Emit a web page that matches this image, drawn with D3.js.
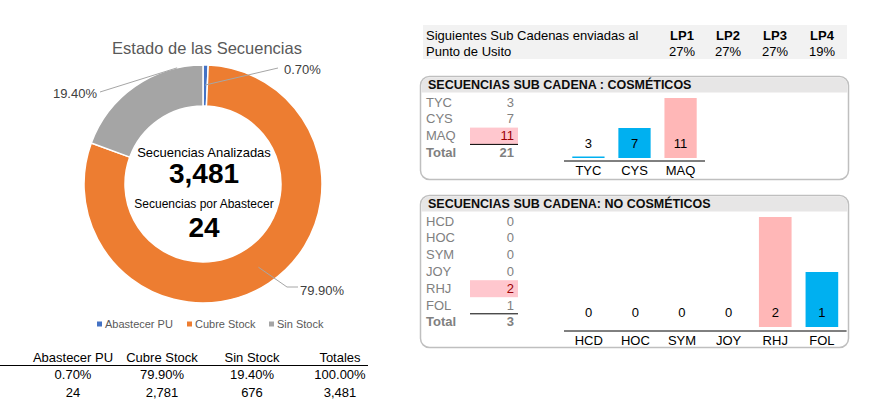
<!DOCTYPE html>
<html><head><meta charset="utf-8">
<script src="https://cdn.jsdelivr.net/npm/d3@7"></script>
<style>body{margin:0;background:#fff}svg{display:block}text{font-family:"Liberation Sans",Arial,sans-serif}</style>
</head><body><svg id="c" width="878" height="410"></svg>
<script>
// ---- data ----
const pieCategories = ["Abastecer PU", "Cubre Stock", "Sin Stock"];
const piePercents = [0.70, 79.90, 19.40];
const pieCounts = [24, 2781, 676];
const totalCount = 3481;
const pendingCount = 24;
const lpLabels = ["LP1", "LP2", "LP3", "LP4"];
const lpValues = ["27%", "27%", "27%", "19%"];
const cosCategories = ["TYC", "CYS", "MAQ"];
const cosValues = [3, 7, 11];
const cosTotal = 21;
const noCosCategories = ["HCD", "HOC", "SYM", "JOY", "RHJ", "FOL"];
const noCosValues = [0, 0, 0, 0, 2, 1];
const noCosTotal = 3;

// ---- styles ----
const pieColors = ["#4472c4", "#ed7d31", "#a5a5a5"];
const BLUE = "#00b0f0", PINK = "#ffb7b7";
const svg = d3.select("#c");

// ---- donut ----
const cx = 203, cy = 184, R = 119, r0 = 78;
svg.append("text").attr("x", 207).attr("y", 48).attr("text-anchor", "middle")
  .attr("dominant-baseline", "central").attr("font-size", 16.5).attr("fill", "#595959")
  .text("Estado de las Secuencias");
const pie = d3.pie().sort(null).value(d => d)(piePercents);
const arc = d3.arc().innerRadius(r0).outerRadius(R);
const g = svg.append("g").attr("transform", `translate(${cx},${cy})`);
g.selectAll("path").data(pie).join("path").attr("d", arc)
  .attr("fill", (d, i) => pieColors[i]).attr("stroke", "#fff").attr("stroke-width", 1.5);

function pt(a, rad) { return [Math.sin(a) * rad, -Math.cos(a) * rad]; }
const labelLayout = [
  { start: d => pt((d.startAngle + d.endAngle) / 2, 99), pts: [[75, -116]], tx: 81, ty: -115, anchor: "start" },
  { start: d => pt((d.startAngle + d.endAngle) / 2, 100), pts: [[84, 103], [95, 103]], tx: 97, ty: 106, anchor: "start" },
  { start: d => pt(d.endAngle - 0.18 * (d.endAngle - d.startAngle), R), pts: [[-103, -92]], tx: -106, ty: -91, anchor: "end" }
];
pie.forEach((d, i) => {
  const L = labelLayout[i];
  const p = [L.start(d)].concat(L.pts);
  g.append("path").attr("d", d3.line()(p)).attr("fill", "none").attr("stroke", "#a6a6a6").attr("stroke-width", 1);
  g.append("text").attr("x", L.tx).attr("y", L.ty).attr("text-anchor", L.anchor)
    .attr("dominant-baseline", "central").attr("font-size", 13).attr("fill", "#404040")
    .text(piePercents[i].toFixed(2) + "%");
});
const fmt = d3.format(",");
[["Secuencias Analizadas", 152, 13, "normal"], [fmt(totalCount), 173, 28, "bold"],
 ["Secuencias por Abastecer", 204, 12, "normal"], [fmt(pendingCount), 227, 28, "bold"]]
  .forEach(([t, y, s, w]) => svg.append("text").attr("x", 204).attr("y", y).attr("text-anchor", "middle")
    .attr("dominant-baseline", "central").attr("font-size", s).attr("font-weight", w).attr("fill", "#000").text(t));

// legend
const legX = [97, 187, 269];
pieCategories.forEach((c, i) => {
  svg.append("rect").attr("x", legX[i]).attr("y", 321.5).attr("width", 5).attr("height", 5).attr("fill", pieColors[i]);
  svg.append("text").attr("x", legX[i] + 8).attr("y", 324).attr("dominant-baseline", "central")
    .attr("font-size", 11).attr("fill", "#595959").text(c);
});

// bottom table
const colX = [73, 162, 252, 340];
const hdr = pieCategories.concat(["Totales"]);
const pctRow = piePercents.map(v => v.toFixed(2) + "%").concat([d3.sum(piePercents).toFixed(2) + "%"]);
const cntRow = pieCounts.map(fmt).concat([fmt(totalCount)]);
[[hdr, 357], [pctRow, 374], [cntRow, 392]].forEach(([row, y]) => row.forEach((t, i) =>
  svg.append("text").attr("x", colX[i]).attr("y", y).attr("text-anchor", "middle")
    .attr("dominant-baseline", "central").attr("font-size", 13).attr("fill", "#000").text(t)));
svg.append("line").attr("x1", 0).attr("x2", 368).attr("y1", 365.5).attr("y2", 365.5).attr("stroke", "#000");

// ---- top right box ----
svg.append("rect").attr("x", 423).attr("y", 25).attr("width", 424).attr("height", 34).attr("fill", "#f2f2f2");
svg.append("text").attr("x", 426).attr("y", 35).attr("dominant-baseline", "central").attr("font-size", 13).text("Siguientes Sub Cadenas enviadas al");
svg.append("text").attr("x", 426).attr("y", 51).attr("dominant-baseline", "central").attr("font-size", 13).text("Punto de Usito");
const lpX = [682, 728, 775, 822];
lpLabels.forEach((l, i) => {
  svg.append("text").attr("x", lpX[i]).attr("y", 35).attr("text-anchor", "middle").attr("dominant-baseline", "central")
    .attr("font-size", 13).attr("font-weight", "bold").text(l);
  svg.append("text").attr("x", lpX[i]).attr("y", 51).attr("text-anchor", "middle").attr("dominant-baseline", "central")
    .attr("font-size", 13).text(lpValues[i]);
});

// ---- panels ----
function panel(y0, y1, title, cats, vals, total, domain, barTop, barBase, axisY) {
  svg.append("rect").attr("x", 420.5).attr("y", y0 + 0.5).attr("width", 428).attr("height", y1 - y0)
    .attr("rx", 9).attr("fill", "#fff").attr("stroke", "#bfbfbf").attr("stroke-width", 1.5);
  svg.append("path").attr("d", `M421.5,${y0 + 16} L421.5,${y0 + 9} Q421.5,${y0 + 1.5} 430,${y0 + 1.5} L839,${y0 + 1.5} Q847.5,${y0 + 1.5} 847.5,${y0 + 9} L847.5,${y0 + 16.5} L421.5,${y0 + 16.5} Z`)
    .attr("fill", "#e7e6e6");
  svg.append("text").attr("x", 428).attr("y", y0 + 9).attr("dominant-baseline", "central")
    .attr("font-size", 12.5).attr("font-weight", "bold").attr("fill", "#0d0d0d").text(title);
  // left table
  const maxV = d3.max(vals);
  const rowY = d3.range(cats.length + 1).map(i => y0 + 26 + i * 16.8);
  cats.forEach((c, i) => {
    if (vals[i] === maxV) {
      svg.append("rect").attr("x", 470).attr("y", rowY[i] - 8).attr("width", 48).attr("height", 17).attr("fill", "#ffc7ce");
    }
    svg.append("text").attr("x", 426).attr("y", rowY[i]).attr("dominant-baseline", "central")
      .attr("font-size", 13).attr("fill", "#808080").text(c);
    svg.append("text").attr("x", 514).attr("y", rowY[i]).attr("text-anchor", "end").attr("dominant-baseline", "central")
      .attr("font-size", 13).attr("fill", vals[i] === maxV ? "#9c0006" : "#808080").text(vals[i]);
  });
  const ty = rowY[cats.length];
  svg.append("line").attr("x1", 470).attr("x2", 518).attr("y1", ty - 8).attr("y2", ty - 8).attr("stroke", "#000");
  svg.append("text").attr("x", 426).attr("y", ty).attr("dominant-baseline", "central")
    .attr("font-size", 13).attr("font-weight", "bold").attr("fill", "#808080").text("Total");
  svg.append("text").attr("x", 514).attr("y", ty).attr("text-anchor", "end").attr("dominant-baseline", "central")
    .attr("font-size", 13).attr("font-weight", "bold").attr("fill", "#808080").text(total);
  // bars
  const x = d3.scaleBand().domain(cats).range([564, 564 + 47.2 * cats.length - 0.6]).paddingInner(0.3).paddingOuter(0.18);
  const y = d3.scaleLinear().domain(domain).range([barBase, barTop]);
  cats.forEach((c, i) => {
    const h = barBase - y(vals[i]);
    if (vals[i] > 0) {
      svg.append("rect").attr("x", x(c)).attr("width", x.bandwidth()).attr("y", barBase - Math.max(h, 1.5))
        .attr("height", Math.max(h, 1.5)).attr("fill", vals[i] === maxV ? PINK : BLUE);
    }
    svg.append("text").attr("x", x(c) + x.bandwidth() / 2).attr("y", barBase - 14.5).attr("text-anchor", "middle")
      .attr("dominant-baseline", "central").attr("font-size", 13).attr("fill", "#000").text(vals[i]);
    svg.append("text").attr("x", x(c) + x.bandwidth() / 2).attr("y", axisY + 9.5).attr("text-anchor", "middle")
      .attr("dominant-baseline", "central").attr("font-size", 13).attr("fill", "#000").text(c);
  });
  svg.append("line").attr("x1", x.range()[0]).attr("x2", x.range()[1]).attr("y1", axisY).attr("y2", axisY).attr("stroke", "#000");
}
panel(76, 179, "SECUENCIAS SUB CADENA : COSMÉTICOS", cosCategories, cosValues, cosTotal, [3, 11], 98, 158, 161);
panel(195, 347, "SECUENCIAS SUB CADENA: NO COSMÉTICOS", noCosCategories, noCosValues, noCosTotal, [0, 2], 217, 327, 331);
</script></body></html>
